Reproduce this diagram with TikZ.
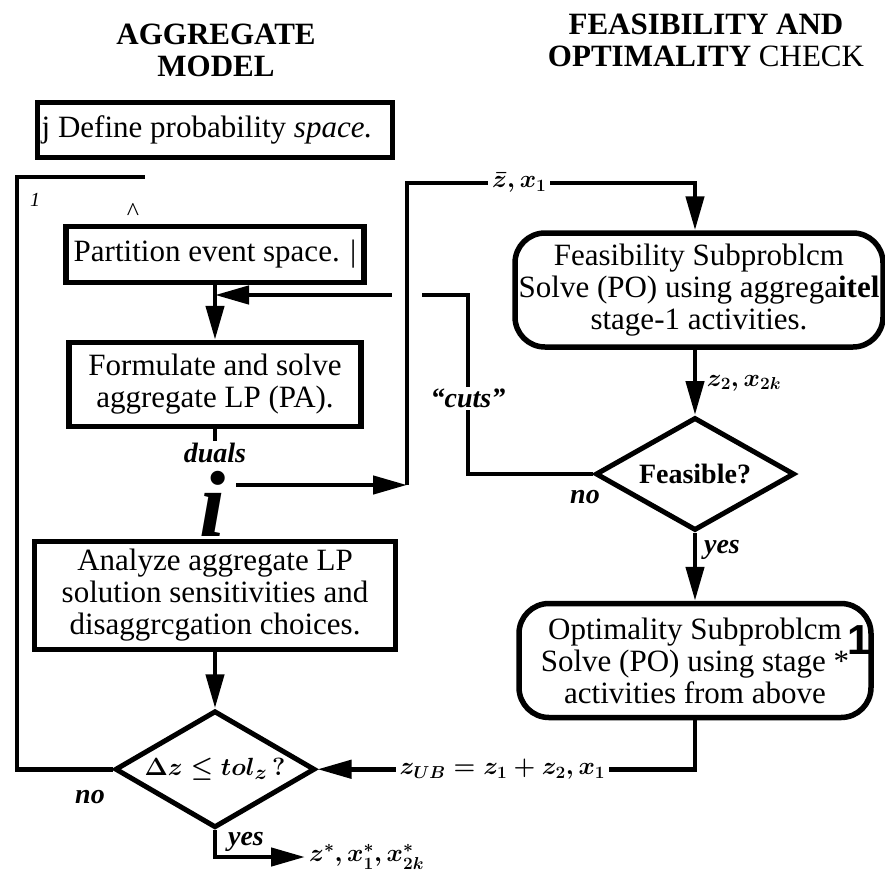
\documentclass[tikz,border=0pt]{standalone}
\usepackage{fontspec}
\setmainfont{Liberation Serif}
\setsansfont{Liberation Sans}
\usepackage{amsmath,amssymb}
\usepackage{tikz}
\usetikzlibrary{positioning,shapes.geometric,arrows.meta}

\begin{document}
\begin{tikzpicture}[x=1pt, y=-1pt,
		stepbox/.style={rectangle, draw=black, line width=5.5pt, align=center, inner sep=0pt, font=\fontsize{31}{32}\selectfont},
		roundbox/.style={stepbox, rounded corners=30pt},
		decide/.style={diamond, aspect=1.7, draw=black, line width=5pt, inner sep=0pt, font=\fontsize{28}{30}\selectfont\bfseries},
		conn/.style={line width=4.5pt},
		arr/.style={-{Triangle[length=34pt,width=18pt]}},
		lbl/.style={font=\fontsize{28}{30}\selectfont\bfseries\itshape, inner sep=2pt},
		mlbl/.style={font=\fontsize{27}{29}\selectfont\boldmath, fill=white, inner sep=4pt},
		title/.style={font=\fontsize{31}{32}\selectfont\bfseries, align=center},
	]
		\useasboundingbox (0,0) rectangle (885,875);

		% titles
		\node[title] (aggtitle) at (216,50) {AGGREGATE\\MODEL};
		\node[title] (chktitle) at (706,40) {FEASIBILITY AND\\OPTIMALITY \mdseries CHECK};

		% aggregate model
		\node[stepbox, minimum width=355pt, minimum height=55pt] (define) at (215,130) {j Define probability \textit{space.}\hspace{16pt}};
		\node[stepbox, minimum width=298pt, minimum height=56pt] (part) [below=63.5pt of define] {Partition event space. |};
		\node[stepbox, minimum width=292pt, minimum height=84pt] (form) [below=54.5pt of part] {Formulate and solve\\aggregate LP (PA).};
		\node[stepbox, minimum width=361pt, minimum height=108pt] (analyze) [below=109.5pt of form] {Analyze aggregate LP\\solution sensitivities and\\disaggrcgation choices.};
		\node[decide, minimum width=200pt, minimum height=117pt] (dz) [below=56pt of analyze] {$\boldsymbol{\Delta z\le tol_z\,?}$};

		% feasibility and optimality check
		\node[roundbox, minimum width=368pt, minimum height=114pt] (feasbox) at (699,290) {Feasibility Subproblcm\\Solve (PO) using aggrega\textbf{itel}\\stage-1 activities.};
		\node[decide, minimum width=199pt, minimum height=113pt] (feas) at (695,474) {Feasible?};
		\node[roundbox, minimum width=352pt, minimum height=114pt] (opt) [below=67.75pt of feas] {Optimality Subproblcm\\Solve (PO) using stage *\\activities from above};

		% labels
		\node[lbl] (duals) at (215,453) {duals};
		\node[font=\fontsize{94}{94}\selectfont\bfseries\itshape, inner sep=0pt] (bigi) at (213,504) {i};
		\node[lbl] (dzno) at (90,797) {no};
		\node[lbl] (dzyes) at (246,842) {yes};
		\node[lbl] (feasno) at (585,497) {no};
		\node[lbl] (feasyes) at (722,550) {yes};
		\node[mlbl, fill=none] (zfeas) at (744,383) {$z_2, x_{2k}$};
		\node[mlbl, fill=none, anchor=west] (result) at (305,857) {$z^*, x_1^*, x_{2k}^*$};
		\node[font=\fontsize{20}{20}\selectfont\itshape] (mark) at (35,200) {1};
		\node[font=\fontsize{26}{26}\selectfont] (caret) at (133,212) {\textasciicircum};
		\node[font=\sffamily\bfseries\fontsize{42}{42}\selectfont] (bigone) at (859,640) {1};

		% points
		\coordinate (cutsx) at (468,295);
		\coordinate (dualsout) at (236,485);
		\coordinate (dualcorner) at (407,485);
		\coordinate (topcorner) at (407,183);
		\coordinate (cross) at (407,295);
		\coordinate (loopcorner) at (17,177);
		\coordinate (loopend) at (145,177);

		% lines
		\draw[conn, arr] (part) -- (form);
		\draw[conn] (form) -- (duals);
		\draw[conn, arr] (analyze) -- (dz);
		\draw[conn, arr] (feas |- feasbox.south) -- (feas);
		\draw[conn, arr] (feas) -- (opt);
		\draw[conn, arr] (feas.west) -| node[lbl, fill=white, pos=0.71] {``cuts''} (cutsx) -- (part.south |- cutsx);
		\draw[white, line width=8pt] ([xshift=-15pt]cross) -- ([xshift=15pt]cross);
		\draw[conn, arr] (dualsout) -- (dualcorner);
		\draw[conn, arr] (dualcorner) -- (topcorner) -- node[mlbl, pos=0.39] {$\bar{z}, x_1$} (topcorner -| feas) -- (feas |- feasbox.north);
		\draw[conn, arr] (opt.south) |- node[mlbl, pos=0.755] {$z_{UB} = z_1 + z_2, x_1$} (dz.east);
		\draw[conn] (dz.west) -| (loopcorner) -- (loopend);
		\draw[conn, arr] (dz.south) |- (result.west);
	\end{tikzpicture}
\end{document}
